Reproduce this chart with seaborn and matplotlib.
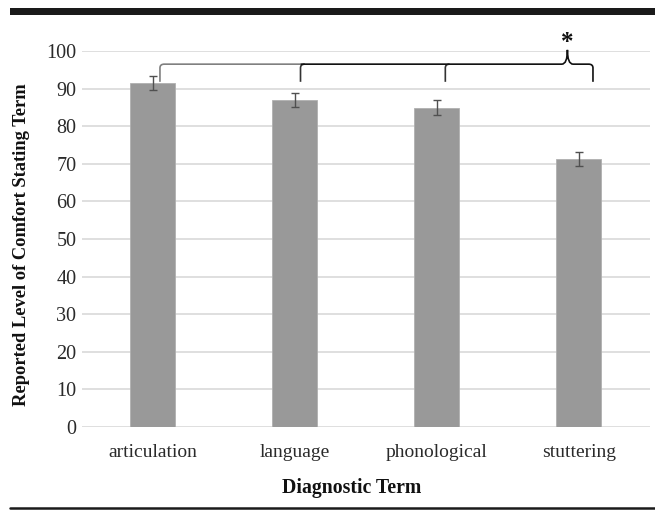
import numpy as np
import pandas as pd
import seaborn as sns
import matplotlib.pyplot as plt
from matplotlib.path import Path
from matplotlib.patches import PathPatch, Rectangle
from matplotlib.lines import Line2D

# data
terms = ['articulation', 'language', 'phonological', 'stuttering']
comfort = [91.5, 87.0, 84.9, 71.3]
err = [1.8, 1.9, 2.0, 1.9]

sns.set_theme(style='white')
plt.rcParams['font.family'] = ['Liberation Serif', 'DejaVu Serif']

df = pd.DataFrame({'term': terms, 'comfort': comfort})

fig = plt.figure(figsize=(6.55, 5.11), dpi=100)
ax = fig.add_axes([0.125, 0.1644, 0.867, 0.7358])

sns.barplot(data=df, x='term', y='comfort', color='#999999', width=0.317,
            errorbar=None, saturation=1, ax=ax, zorder=3)
for p in ax.patches:
    p.set_edgecolor('#b0b0b0')
    p.set_linewidth(0.6)

xs = [p.get_x() + p.get_width() / 2 for p in ax.patches]
ax.errorbar(xs, comfort, yerr=err, fmt='none', ecolor='#505050',
            elinewidth=1, capsize=3, capthick=1, zorder=4)

ax.set_ylim(0, 100)
ax.set_xlim(-0.5, 3.5)
ax.set_yticks(range(0, 101, 10))
ax.yaxis.grid(True, color='#d9d9d9', linewidth=1.2, zorder=0)
ax.set_axisbelow(True)
for s in ax.spines.values():
    s.set_visible(False)
ax.tick_params(axis='both', length=0, labelsize=14, colors='#2a2a2a')
ax.tick_params(axis='x', labelsize=14, pad=12)
ax.tick_params(axis='y', labelsize=14.5, pad=4)
ax.set_xlabel('Diagnostic Term', fontsize=14.2, fontweight='bold', color='#111111')
ax.xaxis.set_label_coords(0.475, -0.135)
ax.set_ylabel('Reported Level of Comfort Stating Term', fontsize=13.3,
              fontweight='bold', color='#111111')
ax.yaxis.set_label_coords(-0.092, 0.484)

# significance brace
yh, yb, r = 96.5, 91.8, 1.0
xl, x1, x2, xr, xc = 0.05, 1.04, 2.06, 3.10, 2.92
dx = 0.03

def hook(x, side):
    # vertical tick that bends into the horizontal line
    return Path([(x, yb), (x, yh - r), (x, yh), (x + side * dx, yh)],
                [Path.MOVETO, Path.LINETO, Path.CURVE3, Path.CURVE3])

ax.add_patch(PathPatch(Path([(xl, yb), (xl, yh - r), (xl, yh), (xl + dx, yh), (x1, yh)],
                            [Path.MOVETO, Path.LINETO, Path.CURVE3, Path.CURVE3, Path.LINETO]),
                       fill=False, ec='#808080', lw=1.2, clip_on=False))
ax.add_patch(PathPatch(hook(x1, 1), fill=False, ec='#333333', lw=1.2, clip_on=False))
ax.add_patch(PathPatch(hook(x2, 1), fill=False, ec='#333333', lw=1.2, clip_on=False))
brace = Path([(x1, yh), (xc - 0.04, yh), (xc, yh), (xc, 100.3),
              (xc, yh), (xc + 0.04, yh), (xr - dx, yh), (xr, yh), (xr, yh - r), (xr, yb)],
             [Path.MOVETO, Path.LINETO, Path.CURVE3, Path.CURVE3,
              Path.CURVE3, Path.CURVE3, Path.LINETO, Path.CURVE3, Path.CURVE3, Path.LINETO])
ax.add_patch(PathPatch(brace, fill=False, ec='#111111', lw=1.2, clip_on=False))
ax.text(xc, 100.5, '*', ha='center', va='baseline', fontsize=18,
        fontweight='bold', color='#111111', clip_on=False)

# page rules above and below
fig.add_artist(Rectangle((10 / 655, 1 - 15 / 511), 645 / 655, 7 / 511,
                         transform=fig.transFigure, color='#1a1a1a', lw=0))
fig.add_artist(Line2D([10 / 655, 1], [1 - 508 / 511] * 2,
                      transform=fig.transFigure, color='#1a1a1a', lw=1.8))

fig.savefig('out.png', dpi=100)
